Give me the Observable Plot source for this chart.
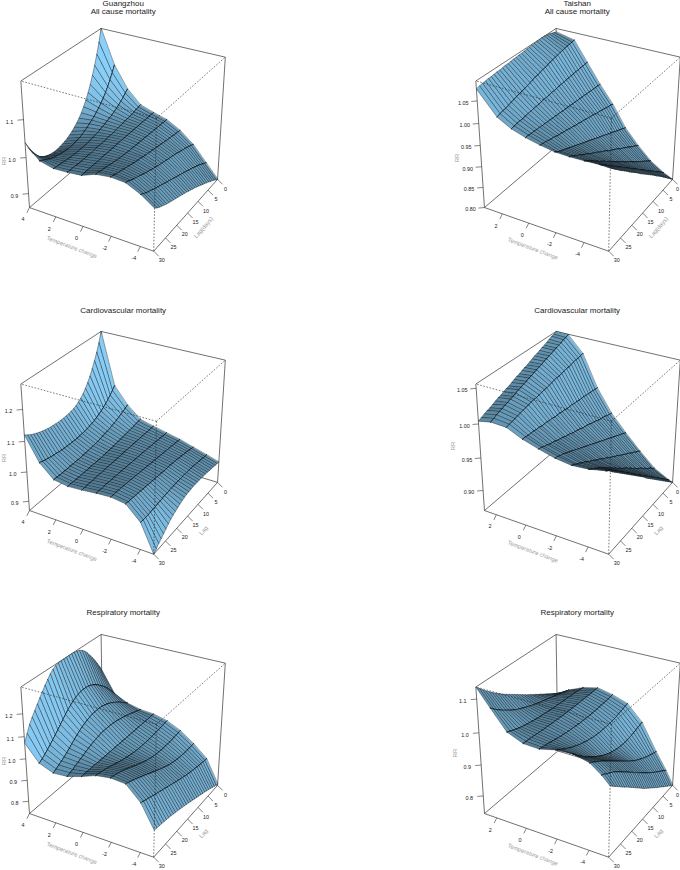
<!DOCTYPE html>
<html><head><meta charset="utf-8">
<style>html,body{margin:0;padding:0;background:#fff}svg{display:block}</style>
<script src="https://cdn.jsdelivr.net/npm/d3@7"></script>
<script src="https://cdn.jsdelivr.net/npm/@observablehq/plot@0.6"></script>
</head><body><div id="c"></div>
<script>
const lags=[0,1,2,3,4,5,6,7,8,9,10,11,12,13,14,15,16,17,18,19,20,21,22,23,24,25,26,27,28,29,30];
const lagTicks=[0,5,10,15,20,25,30];
const tempsWide=[4,3,2,1,0,-1,-2,-3,-4,-4.9];
const tempsP2=[3.4,2,1,0,-1,-2,-3,-4,-5,-5.7];
const tempsP4=[2.83,2,1,0,-1,-2,-3,-4,-5,-5.26];
const tempsP6=[2.85,2,1,0,-1,-2,-3,-4,-4.7,-5.2];

const guangzhouAll=[
[1.197,1.164,1.135,1.109,1.086,1.065,1.047,1.031,1.017,1.005,.995,.987,.980,.974,.969,.965,.962,.960,.958,.957,.957,.958,.960,.963,.967,.973,.980,.989,1.003,1.020,1.040],
[1.105,1.088,1.073,1.059,1.047,1.036,1.027,1.019,1.012,1.005,1.000,.995,.990,.986,.982,.979,.977,.975,.974,.974,.974,.975,.976,.978,.980,.982,.985,.989,.993,.998,1.003],
[1.047,1.040,1.033,1.027,1.022,1.017,1.013,1.009,1.006,1.003,1.000,.998,.995,.993,.991,.990,.988,.987,.986,.986,.986,.986,.986,.987,.987,.988,.989,.990,.991,.992,.994],
[1.012,1.010,1.009,1.007,1.006,1.005,1.004,1.003,1.002,1.001,1.000,.999,.998,.997,.997,.996,.996,.995,.995,.995,.995,.994,.994,.994,.994,.994,.994,.995,.995,.995,.996],
[1,1,1,1,1,1,1,1,1,1,1,1,1,1,1,1,1,1,1,1,1,1,1,1,1,1,1,1,1,1,1],
[.990,.990,.991,.991,.992,.992,.993,.993,.994,.994,.995,.995,.996,.996,.997,.997,.998,.998,.999,1.000,1.001,1.002,1.003,1.005,1.006,1.008,1.009,1.011,1.012,1.014,1.015],
[.970,.971,.972,.973,.975,.976,.977,.979,.980,.982,.983,.985,.986,.988,.989,.991,.992,.994,.996,.997,.999,1.001,1.003,1.005,1.007,1.009,1.011,1.013,1.015,1.018,1.020],
[.940,.943,.946,.949,.952,.954,.957,.959,.962,.964,.966,.968,.970,.972,.974,.976,.978,.980,.983,.985,.988,.990,.993,.996,.999,1.002,1.005,1.008,1.011,1.015,1.018],
[.898,.902,.907,.911,.915,.919,.922,.926,.929,.932,.935,.938,.941,.944,.947,.950,.953,.956,.959,.962,.965,.968,.971,.974,.977,.980,.984,.987,.991,.995,1.000],
[.860,.865,.870,.875,.879,.884,.888,.892,.896,.900,.904,.908,.912,.915,.919,.922,.926,.929,.932,.935,.938,.941,.944,.947,.950,.953,.957,.961,.965,.970,.976]];

const taishanAll=[
[1.085,1.087,1.089,1.091,1.092,1.093,1.093,1.092,1.092,1.091,1.091,1.090,1.090,1.089,1.088,1.088,1.087,1.087,1.086,1.085,1.085,1.084,1.083,1.083,1.082,1.081,1.081,1.080,1.079,1.078,1.076],
[1.075,1.074,1.073,1.072,1.071,1.070,1.069,1.067,1.066,1.064,1.063,1.061,1.059,1.058,1.056,1.054,1.053,1.051,1.049,1.047,1.045,1.043,1.042,1.040,1.038,1.036,1.034,1.032,1.031,1.029,1.027],
[1.030,1.030,1.029,1.029,1.028,1.028,1.027,1.027,1.026,1.026,1.025,1.024,1.024,1.023,1.022,1.022,1.021,1.020,1.020,1.019,1.018,1.017,1.017,1.016,1.015,1.014,1.013,1.013,1.012,1.011,1.010],
[.985,.986,.986,.987,.987,.988,.988,.989,.989,.990,.990,.991,.991,.992,.992,.993,.993,.994,.994,.995,.995,.996,.996,.997,.997,.998,.998,.999,.999,1.000,1.000],
[.945,.947,.948,.950,.952,.953,.955,.956,.958,.960,.961,.963,.964,.966,.967,.969,.970,.972,.973,.975,.977,.978,.980,.981,.983,.985,.986,.988,.990,.991,.993],
[.895,.898,.901,.904,.907,.910,.913,.916,.919,.922,.925,.928,.931,.934,.937,.940,.943,.946,.949,.952,.955,.958,.961,.964,.967,.970,.973,.976,.979,.983,.988],
[.860,.864,.868,.872,.876,.881,.885,.889,.893,.897,.902,.906,.910,.914,.918,.923,.927,.931,.935,.940,.944,.948,.952,.957,.961,.965,.970,.974,.978,.983,.987],
[.830,.835,.840,.845,.850,.855,.860,.865,.870,.875,.881,.886,.891,.896,.902,.907,.912,.917,.923,.928,.934,.939,.945,.950,.955,.961,.966,.972,.977,.983,.988],
[.810,.816,.822,.828,.834,.840,.846,.852,.858,.864,.870,.876,.882,.888,.894,.900,.906,.912,.918,.924,.930,.936,.942,.948,.954,.960,.966,.972,.978,.984,.990],
[.800,.807,.814,.820,.827,.833,.840,.846,.852,.858,.865,.871,.877,.883,.889,.895,.901,.907,.914,.920,.926,.932,.938,.945,.951,.957,.963,.970,.976,.983,.989]];

const guangzhouCardio=[
[1.277,1.245,1.219,1.196,1.175,1.156,1.140,1.126,1.114,1.105,1.098,1.092,1.088,1.086,1.084,1.083,1.082,1.082,1.082,1.083,1.084,1.085,1.087,1.089,1.092,1.095,1.099,1.103,1.108,1.114,1.121],
[1.105,1.094,1.084,1.075,1.067,1.060,1.054,1.049,1.044,1.040,1.037,1.034,1.032,1.030,1.029,1.028,1.027,1.027,1.027,1.027,1.028,1.028,1.029,1.030,1.032,1.033,1.035,1.037,1.039,1.042,1.045],
[1.050,1.045,1.040,1.036,1.032,1.028,1.025,1.022,1.019,1.017,1.015,1.013,1.011,1.009,1.008,1.007,1.006,1.005,1.004,1.004,1.003,1.003,1.003,1.003,1.003,1.003,1.003,1.003,1.003,1.004,1.004],
[1.012,1.011,1.010,1.008,1.007,1.006,1.005,1.004,1.003,1.002,1.001,1.000,.999,.998,.998,.997,.997,.996,.996,.996,.996,.996,.996,.996,.996,.996,.996,.996,.996,.997,.997],
[1,1,1,1,1,1,1,1,1,1,1,1,1,1,1,1,1,1,1,1,1,1,1,1,1,1,1,1,1,1,1],
[.990,.990,.991,.992,.992,.993,.994,.994,.995,.996,.996,.997,.997,.998,.998,.999,.999,1.000,1.000,1.001,1.001,1.002,1.002,1.003,1.003,1.003,1.004,1.004,1.004,1.005,1.005],
[.980,.981,.982,.983,.984,.985,.986,.987,.988,.989,.990,.991,.992,.993,.994,.995,.996,.997,.998,.999,1.000,1.001,1.002,1.003,1.004,1.005,1.006,1.006,1.007,1.007,1.008],
[.966,.968,.970,.972,.974,.975,.977,.978,.980,.981,.982,.983,.984,.985,.985,.986,.987,.988,.989,.990,.991,.992,.993,.994,.995,.996,.997,.998,.999,1.000,1.002],
[.953,.954,.956,.957,.959,.960,.961,.963,.964,.965,.965,.966,.966,.966,.966,.966,.965,.965,.964,.964,.963,.962,.961,.960,.959,.958,.957,.957,.957,.957,.958],
[.940,.942,.943,.945,.946,.947,.949,.950,.951,.952,.952,.953,.953,.953,.952,.951,.950,.948,.945,.941,.937,.933,.928,.923,.916,.908,.900,.892,.885,.876,.868]];

const taishanCardio=[
[1.056,1.054,1.053,1.051,1.049,1.047,1.046,1.044,1.042,1.041,1.039,1.037,1.035,1.034,1.032,1.030,1.029,1.027,1.025,1.023,1.022,1.020,1.018,1.017,1.015,1.013,1.011,1.010,1.008,1.006,1.004],
[1.055,1.053,1.052,1.050,1.049,1.047,1.046,1.044,1.043,1.041,1.040,1.038,1.037,1.035,1.034,1.032,1.031,1.029,1.028,1.026,1.025,1.023,1.021,1.020,1.018,1.017,1.015,1.014,1.012,1.010,1.008],
[1.032,1.031,1.030,1.030,1.029,1.028,1.027,1.027,1.026,1.025,1.024,1.024,1.023,1.022,1.021,1.020,1.020,1.019,1.018,1.017,1.017,1.016,1.015,1.014,1.013,1.012,1.011,1.010,1.009,1.008,1.007],
[.985,.985,.986,.986,.987,.987,.988,.988,.988,.989,.989,.990,.990,.990,.991,.991,.992,.992,.992,.993,.993,.994,.994,.994,.995,.995,.996,.996,.996,.997,.997],
[.951,.952,.953,.955,.956,.957,.958,.960,.961,.962,.964,.965,.966,.967,.969,.970,.971,.972,.974,.975,.976,.978,.979,.980,.982,.983,.984,.986,.987,.989,.990],
[.926,.928,.930,.932,.934,.936,.938,.940,.942,.944,.946,.948,.950,.952,.954,.956,.958,.960,.962,.964,.966,.968,.970,.972,.974,.976,.978,.980,.981,.983,.984],
[.903,.906,.908,.911,.913,.916,.919,.921,.924,.926,.929,.932,.934,.937,.939,.942,.945,.947,.950,.953,.955,.958,.961,.963,.966,.969,.971,.974,.976,.979,.981],
[.882,.885,.889,.892,.895,.899,.902,.906,.909,.912,.916,.919,.923,.926,.930,.933,.936,.940,.943,.947,.950,.954,.957,.961,.964,.968,.971,.974,.977,.980,.983],
[.870,.874,.878,.882,.886,.890,.894,.898,.902,.906,.910,.914,.918,.922,.926,.930,.934,.938,.942,.946,.950,.954,.958,.962,.966,.970,.974,.978,.982,.985,.988],
[.868,.872,.876,.880,.884,.888,.892,.896,.900,.904,.908,.912,.916,.920,.924,.929,.933,.937,.941,.945,.949,.953,.957,.961,.965,.969,.973,.977,.981,.985,.990]];

const guangzhouResp=[
[1.150,1.175,1.198,1.220,1.240,1.258,1.276,1.290,1.300,1.307,1.311,1.313,1.314,1.314,1.313,1.313,1.312,1.311,1.308,1.300,1.288,1.272,1.255,1.236,1.218,1.198,1.178,1.158,1.135,1.105,1.072],
[1.050,1.068,1.084,1.100,1.114,1.127,1.138,1.149,1.158,1.166,1.172,1.176,1.178,1.178,1.176,1.172,1.166,1.158,1.148,1.137,1.124,1.110,1.096,1.082,1.068,1.055,1.042,1.030,1.018,1.008,1.000],
[1.020,1.030,1.040,1.050,1.059,1.067,1.075,1.082,1.088,1.093,1.097,1.100,1.101,1.101,1.100,1.098,1.094,1.089,1.083,1.076,1.068,1.058,1.048,1.037,1.026,1.016,1.006,.998,.990,.982,.975],
[1.005,1.009,1.014,1.018,1.023,1.027,1.031,1.035,1.038,1.041,1.044,1.046,1.048,1.049,1.049,1.049,1.048,1.046,1.043,1.040,1.036,1.031,1.026,1.020,1.014,1.008,1.002,.996,.990,.985,.980],
[1,1,1,1,1,1,1,1,1,1,1,1,1,1,1,1,1,1,1,1,1,1,1,1,1,1,1,1,1,1,1],
[.985,.983,.981,.979,.978,.976,.975,.974,.973,.973,.973,.973,.973,.974,.975,.977,.979,.981,.984,.987,.990,.994,.998,1.002,1.006,1.010,1.014,1.017,1.020,1.023,1.025],
[.955,.953,.951,.950,.948,.947,.947,.947,.947,.948,.949,.950,.952,.955,.958,.962,.966,.971,.976,.982,.987,.993,.999,1.005,1.011,1.016,1.021,1.025,1.029,1.032,1.035],
[.910,.909,.908,.908,.908,.909,.910,.911,.913,.916,.919,.922,.926,.931,.936,.941,.947,.953,.959,.966,.972,.979,.985,.991,.997,1.003,1.009,1.014,1.019,1.024,1.030],
[.855,.856,.858,.860,.862,.865,.867,.870,.873,.876,.879,.883,.887,.891,.895,.899,.904,.908,.913,.917,.922,.926,.931,.935,.940,.944,.949,.954,.958,.963,.968],
[.745,.751,.756,.761,.767,.772,.777,.782,.786,.791,.795,.800,.804,.809,.813,.818,.822,.826,.830,.834,.838,.841,.845,.848,.851,.854,.856,.859,.861,.863,.865]];

const taishanResp=[
[.940,.946,.952,.958,.964,.970,.975,.981,.986,.992,.997,1.003,1.008,1.014,1.020,1.026,1.032,1.038,1.044,1.050,1.056,1.062,1.069,1.076,1.083,1.091,1.099,1.107,1.116,1.125,1.135],
[.965,.968,.970,.973,.975,.978,.980,.983,.985,.988,.990,.993,.995,.998,1.001,1.004,1.007,1.011,1.014,1.018,1.022,1.026,1.031,1.036,1.042,1.048,1.054,1.061,1.068,1.076,1.085],
[.985,.986,.987,.988,.989,.989,.990,.991,.991,.992,.992,.993,.993,.994,.995,.996,.997,.998,.999,1.000,1.002,1.003,1.005,1.007,1.009,1.011,1.014,1.017,1.020,1.024,1.028],
[.996,.996,.996,.996,.996,.996,.996,.996,.996,.996,.996,.996,.996,.997,.997,.997,.998,.998,.999,.999,1.000,1.001,1.001,1.002,1.003,1.004,1.005,1.006,1.007,1.007,1.008],
[.986,.985,.984,.983,.983,.982,.982,.981,.981,.981,.981,.981,.981,.982,.982,.983,.984,.985,.986,.987,.988,.990,.991,.993,.995,.997,.999,1.001,1.003,1.004,1.006],
[.970,.967,.965,.963,.961,.959,.958,.957,.956,.955,.955,.955,.955,.956,.957,.958,.960,.962,.964,.967,.970,.973,.977,.981,.985,.990,.995,1.000,1.006,1.012,1.018],
[.922,.919,.917,.915,.913,.911,.910,.909,.909,.909,.910,.911,.913,.915,.918,.921,.925,.929,.934,.939,.945,.951,.957,.964,.971,.978,.986,.994,1.002,1.012,1.022],
[.838,.841,.844,.848,.851,.855,.859,.863,.868,.873,.878,.884,.890,.896,.903,.910,.917,.924,.931,.938,.945,.952,.959,.966,.973,.980,.986,.992,.998,1.004,1.010],
[.785,.791,.797,.803,.809,.815,.821,.828,.834,.841,.848,.855,.862,.870,.877,.885,.892,.900,.907,.915,.922,.929,.937,.944,.951,.958,.964,.969,.974,.980,.985],
[.741,.747,.754,.760,.767,.773,.780,.787,.793,.800,.807,.814,.821,.828,.835,.842,.850,.858,.866,.874,.882,.890,.898,.906,.913,.921,.929,.937,.945,.953,.961]];

const panels=[
 {col:0,row:0,t:tempsWide,z:guangzhouAll,zlim:[.86,1.197],tt:[4,2,0,-2,-4],zt:[.9,1,1.1],zf:1,lag:"Lag(days)",title:["Guangzhou","All cause mortality"],rr:[-21.7,14],tc:[-17.5,18.5]},
 {col:1,row:0,t:tempsP2,z:taishanAll,zlim:[.8,1.093],tt:[2,0,-2,-4],zt:[.8,.85,.9,.95,1,1.05],zf:2,lag:"Lag(days)",title:["Taishan","All cause mortality"],rr:[-23,11],tc:[-11.5,20]},
 {col:0,row:1,t:tempsWide,z:guangzhouCardio,zlim:[.868,1.277],tt:[4,2,0,-2,-4],zt:[.9,1,1.1,1.2],zf:1,lag:"Lag",title:["Cardiovascular mortality"],rr:[-21.7,8],tc:[-17.5,18.5]},
 {col:1,row:1,t:tempsP4,z:taishanCardio,zlim:[.868,1.056],tt:[2,0,-2,-4],zt:[.9,.95,1,1.05],zf:2,lag:"Lag",title:["Cardiovascular mortality"],rr:[-27,-4],tc:[-11.5,20]},
 {col:0,row:2,t:tempsWide,z:guangzhouResp,zlim:[.74,1.314],tt:[4,2,0,-2,-4],zt:[.8,.9,1,1.1,1.2],zf:1,lag:"Lag",title:["Respiratory mortality"],rr:[-21.7,8],tc:[-17.5,18.5]},
 {col:1,row:2,t:tempsP6,z:taishanResp,zlim:[.741,1.135],tt:[2,0,-2,-4],zt:[.8,.9,1,1.1],zf:1,lag:"Lag",title:["Respiratory mortality"],rr:[-25,0],tc:[-11.5,20]}
];
const titleY=[[3,11],[310],[612]];
const titleX=[122.7,576.7];

// perspective view (R persp style)
const rad=Math.PI/180, th=210*rad, ph=30*rad, D=12, K=860;
const ct=Math.cos(th), st=Math.sin(th), cp=Math.cos(ph), sp=Math.sin(ph);
const baseCol=d3.rgb("#8cd4ff");
const lt=-135*rad, lp=0;
const Light=[Math.sin(lt)*Math.cos(lp),-Math.cos(lt)*Math.cos(lp),Math.sin(lp)];

const faces=[],solid=[],dashed=[],tickL=[],labels=[],rot=[];
panels.forEach((p,pi)=>{
  const ox=(125.4+455*p.col)/K, oy=(133+303*p.row)/K;
  const xmax=p.t[0], xmin=p.t[p.t.length-1], z0=p.zlim[0], z1=p.zlim[1];
  const sx=x=>2*(x-(xmax+xmin)/2)/(xmax-xmin), sy=y=>(y-15)/15, sz=z=>2*(z-(z0+z1)/2)/(z1-z0);
  const P=(x,y,z)=>{
    const a=sx(x),b=sy(y),c=sz(z);
    const X=a*ct+b*st, Y=-a*st+b*ct, U=c*cp+Y*sp, V=-Y*cp+c*sp, w=D-V;
    return [X/w+ox,-U/w+oy];
  };
  const seg=(arr,a,b)=>arr.push({x1:a[0],y1:a[1],x2:b[0],y2:b[1]});
  const L0=P(xmax,30,z0),L1=P(xmax,30,z1),R0=P(xmin,0,z0),R1=P(xmin,0,z1),
        F0=P(xmin,30,z0),F1=P(xmin,30,z1),B0=P(xmax,0,z0),B1=P(xmax,0,z1);
  [[L1,B1],[B1,R1],[L0,L1],[R0,R1],[L0,F0],[F0,R0],[B0,B1],[B0,L0],[B0,R0]].forEach(e=>seg(solid,e[0],e[1]));
  [[F1,L1],[F1,R1],[F1,F0]].forEach(e=>seg(dashed,e[0],e[1]));

  // surface cells, far to near
  for(let i=0;i<p.t.length-1;i++){
    const b=p.z[i],a=p.z[i+1],xb=p.t[i],xa=p.t[i+1];
    for(let j=0;j<lags.length-1;j++){
      const dx=sx(xb)-sx(xa),dy=sy(lags[j+1])-sy(lags[j]);
      const u=[dx,-dy,sz(b[j])-sz(a[j+1])],v=[dx,dy,sz(b[j+1])-sz(a[j])];
      const n=[u[1]*v[2]-u[2]*v[1],u[2]*v[0]-u[0]*v[2],u[0]*v[1]-u[1]*v[0]];
      const m=Math.hypot(...n)||1;
      const s=Math.pow(.5*((n[0]*Light[0]+n[1]*Light[1]+n[2]*Light[2])/m+1),.7);
      const fill=d3.rgb(baseCol.r*s,baseCol.g*s,baseCol.b*s).formatHex();
      const id=`${pi}-${i}-${j}`;
      [[xb,j,b],[xb,j+1,b],[xa,j+1,a],[xa,j,a]].forEach(q=>{
        const c=P(q[0],lags[q[1]],q[2][q[1]]);
        faces.push({id,px:c[0],py:c[1],fill,sw:.4});
      });
      if(i<p.t.length-2) [[xa,j,a],[xa,j+1,a]].forEach(q=>{
        const c=P(q[0],lags[q[1]],q[2][q[1]]);
        faces.push({id:id+"e",px:c[0],py:c[1],fill,sw:.7});
      });
    }
  }
  // ticks and labels
  const tk=(a,dx,dy)=>tickL.push({x1:a[0],y1:a[1],x2:a[0]+dx/K,y2:a[1]+dy/K});
  p.tt.forEach(v=>{const a=P(v,30,z0);tk(a,-2.6,5.2);labels.push({x:a[0]-6.5/K,y:a[1]+12/K,s:String(v)});});
  lagTicks.forEach(v=>{const a=P(xmin,v,z0);tk(a,5,5);labels.push({x:Math.min(a[0]+8/K,677/K),y:a[1]+9.5/K,s:String(v)});});
  p.zt.forEach(v=>{const a=P(xmax,30,v);tk(a,-6,.5);labels.push({x:a[0]-14/K,y:a[1]+2.2/K,s:v.toFixed(p.zf)});});
  const tm=P((xmax+xmin)/2,30,z0), lm=P(xmin,15,z0), zm=P(xmax,30,(z0+z1)/2);
  rot.push({x:tm[0]+p.tc[0]/K,y:tm[1]+p.tc[1]/K,s:"Temperature change",r:20.5});
  rot.push({x:lm[0]+16/K,y:lm[1]+14.5/K,s:p.lag,r:-49});
  rot.push({x:zm[0]+p.rr[0]/K,y:zm[1]+p.rr[1]/K,s:"RR",r:-90});
});
const titles=panels.flatMap(p=>p.title.map((s,i)=>({s,x:titleX[p.col]/K,y:titleY[p.row][i]/K})));

const chart=Plot.plot({
  width:680,height:870,margin:0,
  style:{background:"#fff",fontFamily:"'Liberation Sans',Arial,sans-serif"},
  x:{domain:[0,680/K],range:[0,680],axis:null},
  y:{domain:[0,870/K],range:[0,870],axis:null},
  color:{type:"identity"},
  marks:[
    Plot.link(solid,{x1:"x1",y1:"y1",x2:"x2",y2:"y2",stroke:"#333",strokeWidth:.7}),
    Plot.line(faces,{x:"px",y:"py",z:"id",fill:"fill",stroke:"#0d141a",strokeWidth:"sw",curve:"linear-closed",strokeLinejoin:"round"}),
    Plot.link(dashed,{x1:"x1",y1:"y1",x2:"x2",y2:"y2",stroke:"#222",strokeWidth:.6,strokeDasharray:"1.6,1.6"}),
    Plot.link(tickL,{x1:"x1",y1:"y1",x2:"x2",y2:"y2",stroke:"#333",strokeWidth:.6}),
    Plot.text(labels,{x:"x",y:"y",text:"s",fontSize:5.4,fill:"#222"}),
    Plot.text(rot,{x:"x",y:"y",text:"s",rotate:"r",fontSize:5.8,fill:"#999"}),
    Plot.text(titles,{x:"x",y:"y",text:"s",fontSize:8,fill:"#222"})
  ]
});
document.getElementById("c").appendChild(chart);
</script></body></html>
